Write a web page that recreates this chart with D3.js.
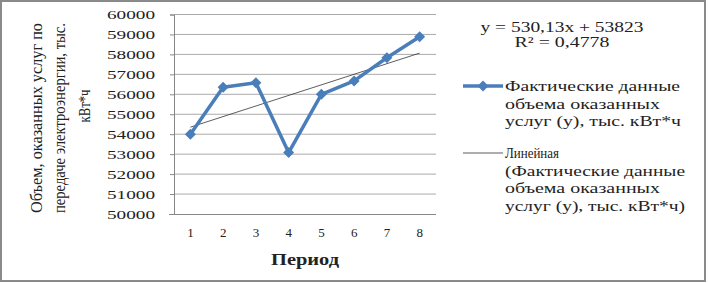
<html>
<head>
<meta charset="UTF-8">
<title>Период</title>
<style>
    body { margin: 0; background: #fff; }
    svg text { font-family: "Liberation Serif", "Times New Roman", serif; fill: #222; }
</style>
</head>
<body>
<script src="https://d3js.org/d3.v7.min.js"></script>
<div id="chart"></div>
<script>
// chart data
const periods = [1, 2, 3, 4, 5, 6, 7, 8];
const volumes = [54000, 56350, 56580, 53080, 56000, 56670, 57830, 58880];
const yTicks = [50000, 51000, 52000, 53000, 54000, 55000, 56000, 57000, 58000, 59000, 60000];

// trend line as given on the chart
const trendSlope = 530.13;
const trendIntercept = 53823;
const trendText = ["y = 530,13x + 53823", "R\u00b2 = 0,4778"];

// labels
const yTitle = ["Объем, оказанных услуг по", "передаче электроэнергии, тыс.", "кВт*ч"];
const xTitle = "Период";
const legendSeries = ["Фактические данные", "объема оказанных", "услуг (у), тыс. кВт*ч"];
const legendTrend = ["Линейная", "(Фактические данные", "объема оказанных", "услуг (у), тыс. кВт*ч)"];

const W = 708, H = 283;
const plot = {left: 174, right: 436, top: 14.5, bottom: 214};

const svg = d3.select("#chart").append("svg")
    .attr("width", W)
    .attr("height", H);

// frame
svg.append("rect")
    .attr("x", 1).attr("y", 1)
    .attr("width", W - 4).attr("height", H - 3)
    .attr("fill", "#fff")
    .attr("stroke", "#8a8a8a")
    .attr("stroke-width", 2);

// stretches a text to a measured width
function fit(sel, len) {
    sel.attr("textLength", len).attr("lengthAdjust", "spacingAndGlyphs");
}

const x = d3.scaleBand()
    .domain(periods)
    .range([plot.left, plot.right]);
const cx = d => x(d) + x.bandwidth() / 2;

const y = d3.scaleLinear()
    .domain([yTicks[0], yTicks[yTicks.length - 1]])
    .range([plot.bottom, plot.top]);

// gridlines
svg.append("g")
    .selectAll("line")
    .data(yTicks.slice(1))
    .join("line")
    .attr("x1", plot.left).attr("x2", plot.right)
    .attr("y1", d => y(d)).attr("y2", d => y(d))
    .attr("stroke", "#aaaaaa")
    .attr("stroke-width", 1);

// y axis
const yAxis = svg.append("g")
    .attr("transform", "translate(" + plot.left + ",0)")
    .call(d3.axisLeft(y).tickValues(yTicks).tickSize(4).tickFormat(d => d));
yAxis.attr("font-family", null);
yAxis.select(".domain").attr("stroke", "#888");
yAxis.selectAll(".tick line").attr("stroke", "#888");
yAxis.selectAll(".tick text")
    .attr("x", -19)
    .attr("dy", "0.36em")
    .style("font-size", "12px")
    .attr("fill", "#333")
    .call(fit, 48);

// x axis
const xAxis = svg.append("g")
    .attr("transform", "translate(0," + plot.bottom + ")")
    .call(d3.axisBottom(x).tickSize(0));
xAxis.attr("font-family", null);
xAxis.select(".domain")
    .attr("d", "M" + (plot.left - 5) + ",0.5H" + plot.right)
    .attr("stroke", "#888");
xAxis.selectAll(".tick text")
    .attr("y", 14)
    .attr("dy", "0.71em")
    .style("font-size", "13px")
    .attr("fill", "#333");

// trend line
const trendPts = [periods[0], periods[periods.length - 1]];
svg.append("line")
    .attr("x1", cx(trendPts[0]))
    .attr("y1", y(trendSlope * trendPts[0] + trendIntercept))
    .attr("x2", cx(trendPts[1]))
    .attr("y2", y(trendSlope * trendPts[1] + trendIntercept))
    .attr("stroke", "#333")
    .attr("stroke-width", 0.8);

// data series
const blue = "#4a7ebb";
svg.append("path")
    .datum(periods.map((p, i) => [p, volumes[i]]))
    .attr("fill", "none")
    .attr("stroke", blue)
    .attr("stroke-width", 3.5)
    .attr("stroke-linejoin", "round")
    .attr("d", d3.line().x(d => cx(d[0])).y(d => y(d[1])));

const diamond = d3.symbol().type(d3.symbolSquare).size(60);
svg.append("g")
    .selectAll("path")
    .data(periods)
    .join("path")
    .attr("d", diamond)
    .attr("transform", (d, i) => "translate(" + cx(d) + "," + y(volumes[i]) + ") rotate(45)")
    .attr("fill", blue);

// axis titles
const yTitleX = [37, 60, 85];
const yTitleY = [118, 118, 106];
const yTitleLen = [190, 190, 33];
yTitle.forEach((t, i) => {
    svg.append("text")
        .attr("transform", "translate(" + (yTitleX[i] + 5) + "," + yTitleY[i] + ") rotate(-90)")
        .attr("text-anchor", "middle")
        .style("font-size", "16px")
        .text(t)
        .call(fit, yTitleLen[i]);
});

svg.append("text")
    .attr("x", 305).attr("y", 265)
    .attr("text-anchor", "middle")
    .style("font-size", "16px")
    .style("font-weight", "bold")
    .text(xTitle)
    .call(fit, 68);

// trend equation
const eqLen = [163, 95];
trendText.forEach((t, i) => {
    svg.append("text")
        .attr("x", 562).attr("y", 32 + i * 15)
        .attr("text-anchor", "middle")
        .style("font-size", "14px")
        .text(t)
        .call(fit, eqLen[i]);
});

// legend
const legX = 463, legTextX = 505, lineH = 17.5;
svg.append("line")
    .attr("x1", legX).attr("x2", legX + 40)
    .attr("y1", 86).attr("y2", 86)
    .attr("stroke", blue).attr("stroke-width", 3.5);
svg.append("path")
    .attr("d", diamond)
    .attr("transform", "translate(" + (legX + 20) + ",86) rotate(45)")
    .attr("fill", blue);
const seriesLen = [175, 155, 176];
legendSeries.forEach((t, i) => {
    svg.append("text")
        .attr("x", legTextX).attr("y", 91 + i * lineH)
        .style("font-size", "14px")
        .text(t)
        .call(fit, seriesLen[i]);
});

svg.append("line")
    .attr("x1", legX).attr("x2", legX + 40)
    .attr("y1", 153).attr("y2", 153)
    .attr("stroke", "#333").attr("stroke-width", 0.8);
const trendLen = [54, 180, 155, 180];
legendTrend.forEach((t, i) => {
    svg.append("text")
        .attr("x", legTextX).attr("y", 158 + i * lineH)
        .style("font-size", "14px")
        .text(t)
        .call(fit, trendLen[i]);
});
</script>
</body>
</html>
